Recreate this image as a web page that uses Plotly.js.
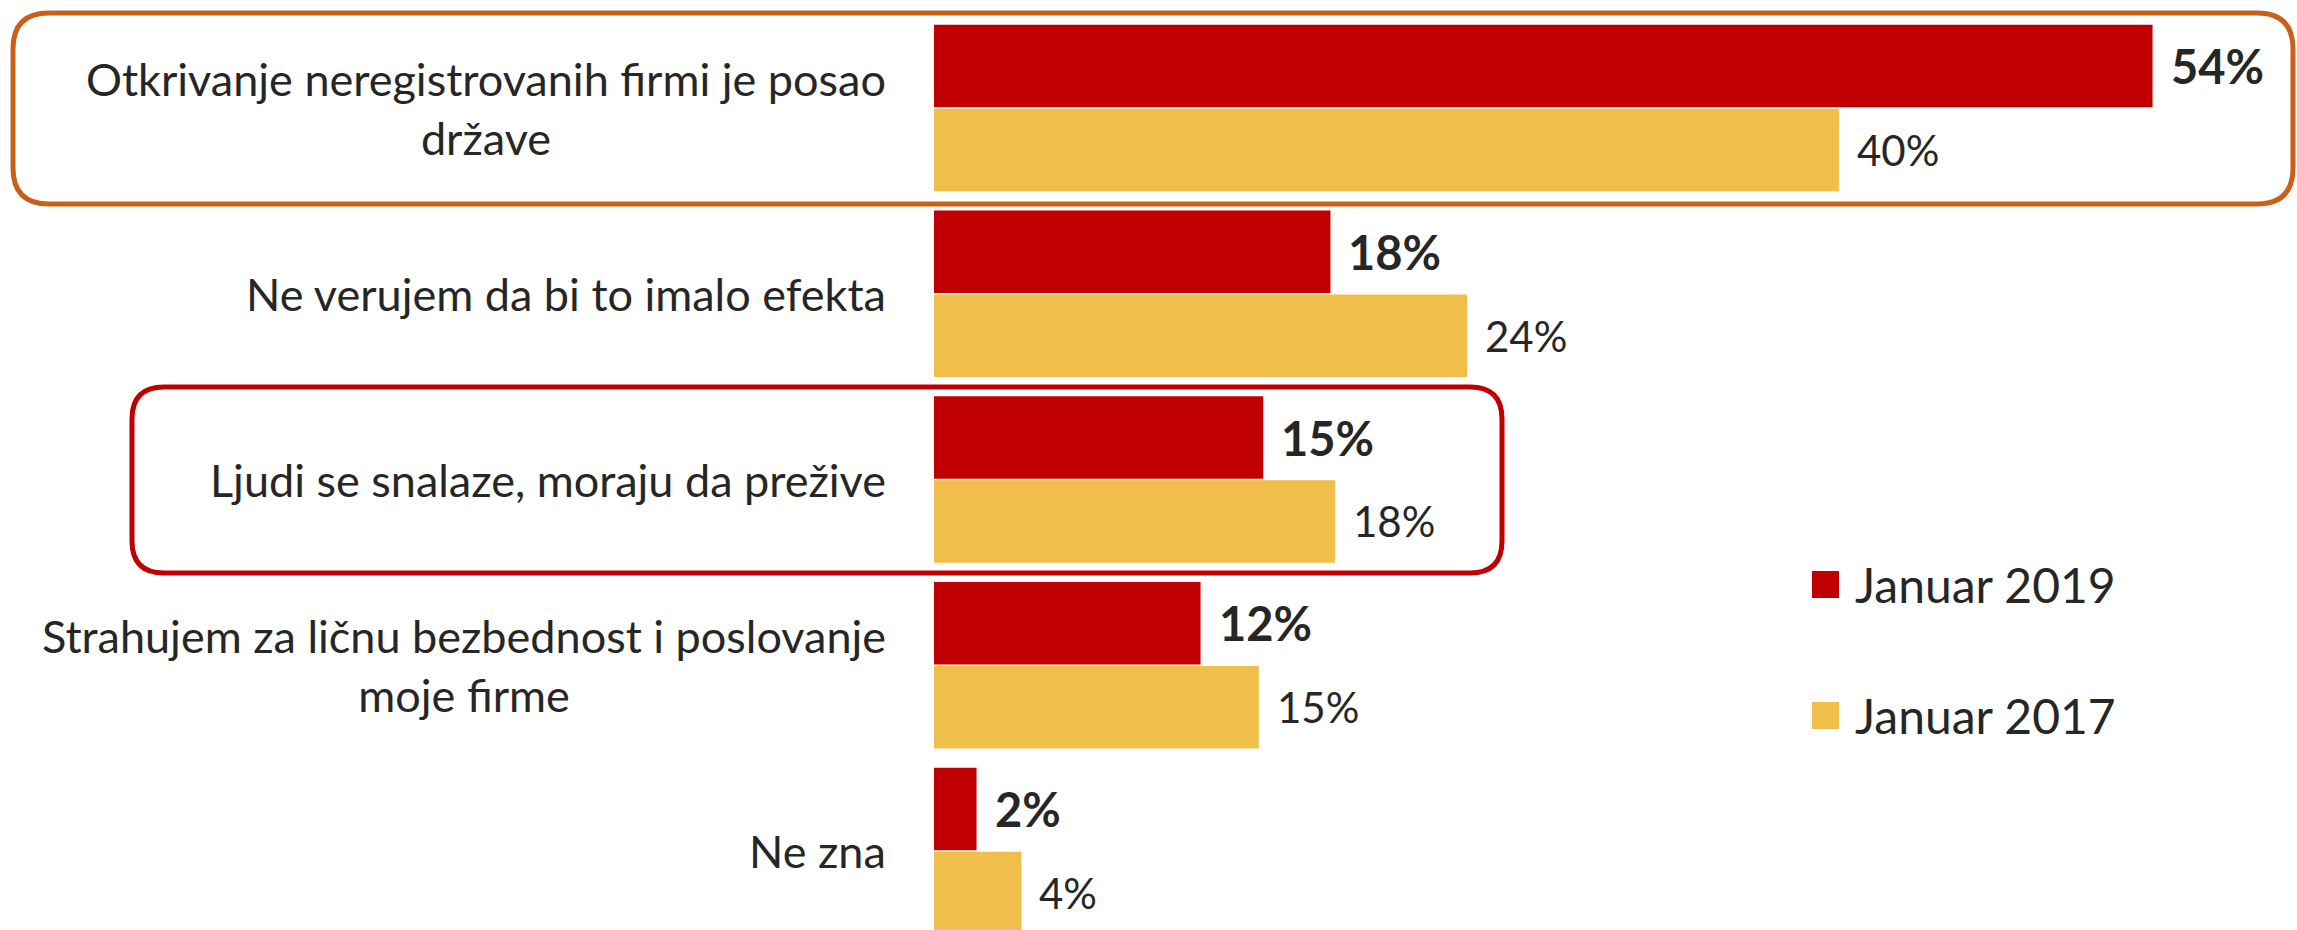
<!DOCTYPE html>
<html>
<head>
<meta charset="utf-8">
<script src="https://cdn.plot.ly/plotly-3.0.1.min.js"></script>
<style>
  html, body { margin: 0; padding: 0; background: #ffffff; }
  #chart { width: 2297px; height: 930px; }
</style>
</head>
<body>
<div id="chart"></div>
<script>
// ---- data ----
var categories = [
  'Otkrivanje neregistrovanih firmi je posao<br>države',
  'Ne verujem da bi to imalo efekta',
  'Ljudi se snalaze, moraju da prežive',
  'Strahujem za ličnu bezbednost i poslovanje<br>moje firme',
  'Ne zna'
];
var seriesNames = ['Januar 2019', 'Januar 2017'];
var values2019 = [54.4, 17.7, 14.7, 11.9, 1.9];
var values2017 = [40.4, 23.8, 17.9, 14.5, 3.9];

// ---- styling ----
var W = 2297, H = 930;
var RED = '#C00000', GOLD = '#F0BE4B', TXT = '#262626';
var FONT = 'Lato, "Open Sans", sans-serif';
var plotLeft = 934;            // px where bars start
var pxPerUnit = 22.4;          // px per percentage point
var catSpacing = 185.75;       // px per category
var firstCenter = 108;         // px of first category centre

function px(x) { return x / W; }
function py(y) { return 1 - y / H; }
function fmt(v) { return Math.round(v) + '%'; }

var trace2019 = {
  type: 'bar', orientation: 'h', name: seriesNames[0],
  y: categories, x: values2019,
  marker: { color: RED, line: { width: 0 } },
  hoverinfo: 'skip'
};
var trace2017 = {
  type: 'bar', orientation: 'h', name: seriesNames[1],
  y: categories, x: values2017,
  marker: { color: GOLD, line: { width: 0 } },
  hoverinfo: 'skip'
};

var bargap = 0.0956;
var halfSlotPx = catSpacing * (1 - bargap) / 4;

var annotations = [];
// category labels
categories.forEach(function (c) {
  annotations.push({
    xref: 'paper', yref: 'y', x: px(888), y: c,
    xanchor: 'right', yanchor: 'middle', align: 'center',
    text: c, showarrow: false,
    font: { family: FONT, size: 45, color: TXT }
  });
});
// value labels
categories.forEach(function (c, i) {
  annotations.push({
    xref: 'x', yref: 'y', x: values2019[i], y: c,
    xanchor: 'left', yanchor: 'middle', xshift: 16, yshift: halfSlotPx,
    text: fmt(values2019[i]), showarrow: false,
    font: { family: FONT, size: 47, color: TXT, weight: 'bold' }
  });
  annotations.push({
    xref: 'x', yref: 'y', x: values2017[i], y: c,
    xanchor: 'left', yanchor: 'middle', xshift: 16, yshift: -halfSlotPx,
    text: fmt(values2017[i]), showarrow: false,
    font: { family: FONT, size: 42, color: TXT }
  });
});
// legend text
var legendY = [584.5, 715.5];
[RED, GOLD].forEach(function (col, i) {
  annotations.push({
    xref: 'paper', yref: 'paper', x: px(1853), y: py(legendY[i]),
    xanchor: 'left', yanchor: 'middle',
    text: seriesNames[i], showarrow: false,
    font: { family: FONT, size: 48, color: TXT }
  });
});

// rounded rectangle path in paper coordinates
function roundRect(x0, y0, x1, y1, r) {
  function P(x, y) { return px(x) + ',' + py(y); }
  return 'M' + P(x0 + r, y0) +
    ' L' + P(x1 - r, y0) +
    ' Q' + P(x1, y0) + ' ' + P(x1, y0 + r) +
    ' L' + P(x1, y1 - r) +
    ' Q' + P(x1, y1) + ' ' + P(x1 - r, y1) +
    ' L' + P(x0 + r, y1) +
    ' Q' + P(x0, y1) + ' ' + P(x0, y1 - r) +
    ' L' + P(x0, y0 + r) +
    ' Q' + P(x0, y0) + ' ' + P(x0 + r, y0) + ' Z';
}

var shapes = [
  { type: 'path', xref: 'paper', yref: 'paper', path: roundRect(13, 13, 2293, 204, 36),
    line: { color: '#C9601A', width: 5 }, fillcolor: 'rgba(0,0,0,0)', layer: 'above' },
  { type: 'path', xref: 'paper', yref: 'paper', path: roundRect(132, 387, 1502, 573, 32),
    line: { color: RED, width: 5 }, fillcolor: 'rgba(0,0,0,0)', layer: 'above' },
  // legend swatches
  { type: 'rect', xref: 'paper', yref: 'paper', x0: px(1812), x1: px(1839), y0: py(571), y1: py(598),
    fillcolor: RED, line: { width: 0 } },
  { type: 'rect', xref: 'paper', yref: 'paper', x0: px(1812), x1: px(1839), y0: py(702), y1: py(729),
    fillcolor: GOLD, line: { width: 0 } }
];

var yTop = -firstCenter / catSpacing;
var yBottom = (H - firstCenter) / catSpacing;

var layout = {
  width: W, height: H,
  margin: { l: 0, r: 0, t: 0, b: 0, pad: 0 },
  paper_bgcolor: '#ffffff', plot_bgcolor: 'rgba(0,0,0,0)',
  barmode: 'group', bargap: bargap, bargroupgap: 0.02,
  showlegend: false,
  xaxis: {
    domain: [plotLeft / W, 1],
    range: [0, (W - plotLeft) / pxPerUnit],
    visible: false, fixedrange: true
  },
  yaxis: {
    type: 'category',
    categoryorder: 'array', categoryarray: categories,
    range: [yBottom, yTop],
    showticklabels: false, showgrid: false, zeroline: false, showline: false,
    ticks: '', fixedrange: true
  },
  annotations: annotations,
  shapes: shapes,
  font: { family: FONT, color: TXT }
};

Plotly.newPlot('chart', [trace2019, trace2017], layout, { displayModeBar: false, staticPlot: true });
</script>
</body>
</html>
